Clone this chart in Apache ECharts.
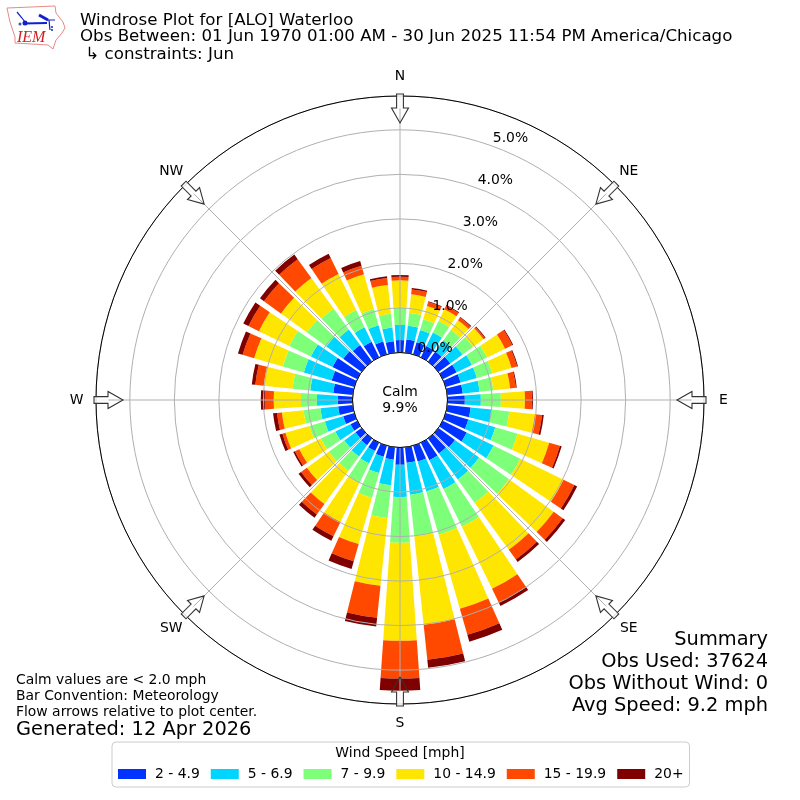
<!DOCTYPE html>
<html><head><meta charset="utf-8">
<style>html,body{margin:0;padding:0;background:#fff}#c{width:800px;height:800px}</style>
<script src="https://cdn.jsdelivr.net/npm/echarts@6/dist/echarts.min.js"></script>
</head><body><div id="c"></div>
<script>
const directions = Array.from({length:36},(_, i)=>String(i*10));
const compassAngles = [0,45,90,135,180,225,270,315];
const compassNames = ['N','NE','E','SE','S','SW','W','NW'];
const speedBins = ['2 - 4.9','5 - 6.9','7 - 9.9','10 - 14.9','15 - 19.9','20+'];
const binColors = ['#0033ff','#00d5ff','#7dff7a','#ffe600','#ff4800','#800000'];
const bin1 = [.28,.30,.28,.28,.28,.33,.35,.35,.35,.39,.53,.53,.60,.46,.42,.44,.37,.35,.39,.28,.26,.21,.19,.17,.17,.26,.33,.33,.44,.53,.62,.51,.46,.39,.30,.26];
const bin2 = [.34,.31,.29,.34,.31,.34,.38,.38,.38,.36,.47,.63,.67,.67,.72,.72,.70,.72,.72,.58,.38,.31,.31,.31,.38,.43,.40,.47,.52,.65,.54,.47,.43,.36,.38,.31];
const bin3 = [.39,.29,.25,.29,.29,.29,.38,.36,.31,.45,.40,.52,.67,.83,.65,.94,1.01,.94,1.03,.74,.58,.49,.40,.43,.36,.36,.38,.36,.40,.49,.54,.54,.58,.43,.38,.31];
const bin4 = [.61,.42,.31,.29,.27,.29,.45,.45,.38,.54,.58,.74,1.08,1.24,1.30,1.55,1.73,2.00,2.20,1.53,1.08,.97,.92,.61,.54,.56,.49,.61,.65,.67,.76,.72,.85,.90,.81,.65];
const bin5 = [.08,.11,.09,.09,.07,.04,.18,.13,.13,.16,.16,.25,.27,.25,.27,.34,.61,.79,.85,.72,.40,.36,.29,.16,.11,.07,.11,.20,.19,.27,.26,.47,.52,.40,.20,.16];
const bin6 = [.04,.03,.02,.02,.02,.02,.02,.02,.02,.02,.04,.04,.07,.07,.07,.09,.16,.18,.27,.20,.18,.11,.09,.07,.04,.07,.09,.09,.08,.11,.13,.11,.13,.11,.11,.04];
const binValues = [bin1,bin2,bin3,bin4,bin5,bin6];
const radiusTicks = [0,1,2,3,4,5];
const radiusMax = 5.76;
const titleLines = ['Windrose Plot for [ALO] Waterloo','Obs Between: 01 Jun 1970 01:00 AM - 30 Jun 2025 11:54 PM America/Chicago',' \u21b3 constraints: Jun'];
const noteLines = ['Calm values are < 2.0 mph','Bar Convention: Meteorology','Flow arrows relative to plot center.'];
const generated = 'Generated: 12 Apr 2026';
const summaryLines = ['Summary','Obs Used: 37624','Obs Without Wind: 0','Avg Speed: 9.2 mph'];
const calmLines = ['Calm','9.9%'];
const legendTitle = 'Wind Speed [mph]';

const FONT = '"DejaVu Sans"';
const CX=400, CY=400, R0=47.5, R1=304;
const chart = echarts.init(document.getElementById('c'), null, {renderer:'canvas'});

function txt(x,y,s,size,align){return {type:'text',x,y,z:50,style:{text:s,font:size+'px '+FONT,fill:'#000',align:align||'left',verticalAlign:'middle'}};}
const g = [];
[21,37,55].forEach((y,i)=>g.push(txt(80,y,titleLines[i],16.67)));
[680,696,712].forEach((y,i)=>g.push(txt(16,y,noteLines[i],13.9)));
g.push(txt(16,730,generated,19.4));
[640,662,684,706].forEach((y,i)=>g.push(txt(768,y,summaryLines[i],19.4,'right')));
g.push(txt(400,392,calmLines[0],13.9,'center'));
g.push(txt(400,408,calmLines[1],13.9,'center'));
g.push(txt(400,753,legendTitle,13.9,'center'));
compassAngles.forEach((a,i)=>{
  const t=a*Math.PI/180;
  g.push(txt(CX+323.5*Math.sin(t),CY-323.5*Math.cos(t),compassNames[i],13.9,'center'));
});
// flow arrows
compassAngles.forEach(a=>{
  const rot=-a*Math.PI/180;
  g.push({type:'rect',x:CX,y:CY,rotation:rot,z:39,shape:{x:-3.4,y:-306,width:6.8,height:14.5},style:{fill:'rgba(255,255,255,0.85)'}});
  g.push({type:'polygon',x:CX,y:CY,rotation:rot,z:40,
    shape:{points:[[0,-277],[8.5,-292],[3.4,-292],[3.4,-306],[-3.4,-306],[-3.4,-292],[-8.5,-292]]},
    style:{fill:'none',stroke:'#333',lineWidth:1.1}});
});
// IEM logo
g.push({type:'polygon',z:40,shape:{points:[[7,8],[55,6],[56,13],[63,22],[65,28],[62,33],[56,40],[53,49],[48,45],[15,43],[15,37],[10,22]]},style:{fill:'none',stroke:'#e88a8a',lineWidth:1}});
g.push({type:'polyline',z:40,shape:{points:[[23,23.5],[47,23]]},style:{stroke:'#1020d0',lineWidth:2}});
g.push({type:'circle',z:40,shape:{cx:25,cy:23,r:2.5},style:{fill:'#1020d0'}});
g.push({type:'circle',z:40,shape:{cx:20,cy:24,r:1.5},style:{fill:'#4050c0'}});
g.push({type:'polyline',z:40,shape:{points:[[17,12],[22,18],[25,22]]},style:{stroke:'#1020d0',lineWidth:1.2,fill:'none'}});
g.push({type:'polyline',z:40,shape:{points:[[39,15],[48,20]]},style:{stroke:'#1020d0',lineWidth:3,fill:'none'}});
g.push({type:'polyline',z:40,shape:{points:[[47,20],[55,20]]},style:{stroke:'#1020d0',lineWidth:1,fill:'none'}});
g.push({type:'polyline',z:40,shape:{points:[[49,20],[50,30]]},style:{stroke:'#1020d0',lineWidth:1.2,fill:'none'}});
g.push({type:'polyline',z:40,shape:{points:[[52,26],[52,31]]},style:{stroke:'#1020d0',lineWidth:1.5,lineDash:[2,1],fill:'none'}});
g.push({type:'text',x:17,y:38,z:40,style:{text:'IEM',font:'italic 16px "Liberation Serif"',fill:'#d02020',align:'left',verticalAlign:'middle'}});

chart.setOption({
  animation:false,
  backgroundColor:'#fff',
  textStyle:{fontFamily:FONT},
  polar:[
    {center:[CX,CY],radius:[R0,R1]},
    {center:[CX,CY],radius:[R0,R1]},
    {center:[CX,CY],radius:[R0,R1]}
  ],
  angleAxis:[
    {polarIndex:0,type:'category',data:directions,boundaryGap:false,startAngle:90,clockwise:true,z:9,
     axisLine:{show:true,lineStyle:{color:'#000',width:1}},axisTick:{show:false},
     splitLine:{show:false},axisLabel:{show:false}},
    {polarIndex:1,type:'value',min:0,max:360,startAngle:70.2,show:false},
    {polarIndex:2,type:'value',min:0,max:360,interval:45,startAngle:90,clockwise:true,z:6,
     axisLine:{show:false},axisTick:{show:false},axisLabel:{show:false},
     splitLine:{show:true,lineStyle:{color:'#b0b0b0',width:1}}}
  ],
  radiusAxis:[
    {polarIndex:0,min:0,max:radiusMax,show:false},
    {polarIndex:1,min:0,max:radiusMax,interval:1,z:8,axisLine:{show:false},axisTick:{show:false},splitLine:{show:false},
     axisLabel:{show:true,margin:0,align:'center',verticalAlign:'bottom',padding:[0,0,0,38],color:'#000',fontSize:13.9,fontFamily:FONT,
       formatter:(v)=>radiusTicks.includes(v)?v.toFixed(1)+'%':''}},
    {polarIndex:2,min:0,max:radiusMax,interval:1,z:5,axisLine:{show:false},axisTick:{show:false},axisLabel:{show:false},
     splitLine:{show:true,lineStyle:{color:'#b0b0b0',width:1}}}
  ],
  legend:{left:112,top:742,itemWidth:28,itemHeight:10,itemGap:11,padding:[25,6,6,6],icon:'rect',
    data:speedBins,backgroundColor:'#fff',borderColor:'#cccccc',borderWidth:1,borderRadius:4,
    textStyle:{color:'#000',fontSize:13.9,fontFamily:FONT,padding:[0,0,0,4]},itemStyle:{borderWidth:0}},
  series:speedBins.map((name,i)=>({
    name,type:'bar',coordinateSystem:'polar',polarIndex:0,stack:'wind',
    barCategoryGap:'20%',data:binValues[i],itemStyle:{color:binColors[i]},z:2,silent:true
  })),
  graphic:g
});
</script></body></html>
